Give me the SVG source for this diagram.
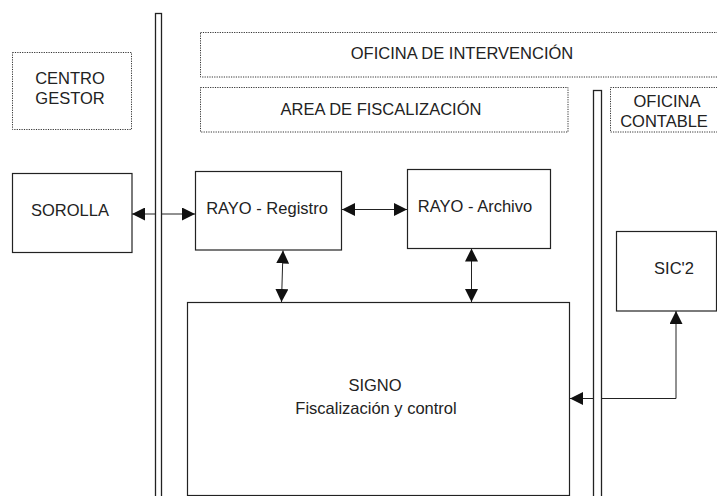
<svg xmlns="http://www.w3.org/2000/svg" width="717" height="496" viewBox="0 0 717 496">
<style>
text{font-family:"Liberation Sans",Arial,sans-serif;font-size:16.5px;fill:#222;text-anchor:middle}
.box{fill:#fff;stroke:#222;stroke-width:1.2}
.dot{fill:none;stroke:#333;stroke-width:1;stroke-dasharray:1.2 1.2}
.sep{fill:#fff;stroke:#222;stroke-width:1.3}
.con{fill:none;stroke:#222;stroke-width:1}
</style>
<defs>
<marker id="ah" markerUnits="userSpaceOnUse" markerWidth="14" markerHeight="13" refX="13" refY="6.5" orient="auto-start-reverse">
<path d="M0,0 L13,6.5 L0,13 Z" fill="#111"/>
</marker>
</defs>
<g id="centro-gestor"><rect class="dot" x="12.5" y="52.5" width="119" height="77"/><text x="70" y="84">CENTRO</text><text x="70" y="104">GESTOR</text></g>
<g id="oficina-intervencion"><rect class="dot" x="200.5" y="32.5" width="530" height="44.5"/><text x="462" y="59">OFICINA DE INTERVENCIÓN</text></g>
<g id="area-fiscalizacion"><rect class="dot" x="200.5" y="87.5" width="367.5" height="44.5"/><text x="381" y="115">AREA DE FISCALIZACIÓN</text></g>
<g id="oficina-contable"><rect class="dot" x="610.5" y="87.5" width="120" height="44.5"/><text x="667" y="107">OFICINA</text><text x="664" y="127">CONTABLE</text></g>
<g id="connectors">
<line class="con" x1="132" y1="214" x2="195" y2="214" marker-start="url(#ah)" marker-end="url(#ah)"/>
<line class="con" x1="342" y1="209.5" x2="407" y2="209.5" marker-start="url(#ah)" marker-end="url(#ah)"/>
<line class="con" x1="283" y1="250.5" x2="281.5" y2="302" marker-start="url(#ah)" marker-end="url(#ah)"/>
<line class="con" x1="471.5" y1="248.5" x2="471.5" y2="302" marker-start="url(#ah)" marker-end="url(#ah)"/>
<polyline class="con" points="676,311 676,398.5 570,398.5" marker-start="url(#ah)" marker-end="url(#ah)"/>
</g>
<g id="separator-1"><rect class="sep" x="155.5" y="13.5" width="6" height="490"/></g>
<g id="separator-2"><rect class="sep" x="593.5" y="90.5" width="8" height="410"/></g>
<g id="sorolla"><rect class="box" x="12.5" y="173.5" width="119.5" height="79"/><text x="70" y="216">SOROLLA</text></g>
<g id="rayo-registro"><rect class="box" x="195.5" y="171.5" width="146" height="78.5"/><text x="267" y="214">RAYO - Registro</text></g>
<g id="rayo-archivo"><rect class="box" x="407.5" y="169.5" width="143" height="79"/><text x="475" y="212">RAYO - Archivo</text></g>
<g id="sic2"><rect class="box" x="616.5" y="231.5" width="100" height="79.5"/><text x="674" y="274">SIC'2</text></g>
<g id="signo"><rect class="box" x="187.5" y="302.5" width="382" height="193"/><text x="375" y="391">SIGNO</text><text x="376" y="414">Fiscalización y control</text></g>
</svg>
